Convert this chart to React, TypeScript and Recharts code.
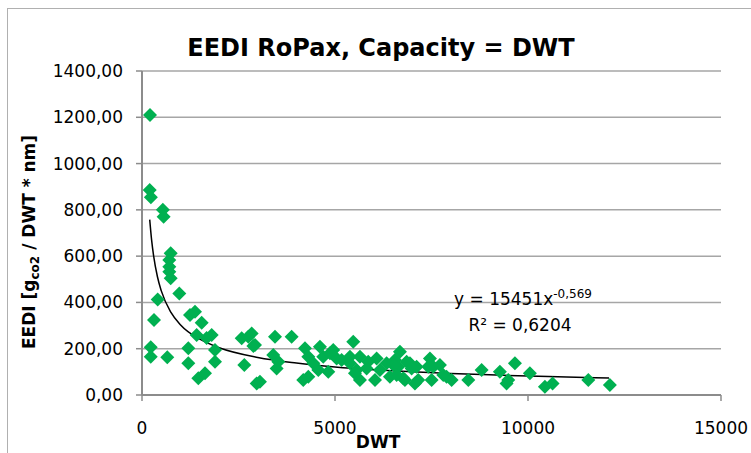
import React from "react";
import {
  ComposedChart,
  Scatter,
  Line,
  CartesianGrid,
  XAxis,
  YAxis
} from "recharts";

// ship samples: DWT vs EEDI
const dwt = [
  207, 200, 230, 540, 560, 743, 707, 707, 707, 743, 967, 406, 311, 1243, 1373,
  1546, 1416, 1805, 1675, 2582, 2755, 2885, 226, 226, 655, 1200, 1200, 1891,
  1891, 1459, 1632, 2650, 2971, 2841, 2927, 3445, 3877, 3401, 3531, 3488, 3056,
  4222, 4309, 4178, 4309, 4610, 4696, 4869, 5042, 4567, 4826, 5473, 5387, 5646,
  5560, 5646, 5862, 6079, 6165, 6424, 6553, 6640, 6682, 6510, 6941, 7114, 6769,
  7071, 7459, 7416, 7503, 7805, 8021, 8453, 8798, 9272, 9661, 9445, 10049,
  10438, 10636, 11562, 12121, 4438, 4955, 5171, 5387, 5819, 5517, 6036, 6338,
  6855, 6985, 7546, 6596, 6812, 7157, 7891, 7718, 9488
];
const eedi = [
  1210, 886, 855, 800, 770, 612, 583, 554, 533, 504, 439, 413, 324, 346, 360,
  312, 259, 259, 246, 245, 252, 212, 206, 165, 163, 202, 137, 194, 144, 72, 94,
  130, 50, 266, 216, 252, 252, 173, 144, 115, 57, 202, 165, 65, 79, 209, 165,
  180, 158, 108, 101, 230, 165, 165, 108, 65, 144, 158, 108, 79, 151, 122, 187,
  130, 137, 122, 72, 50, 158, 122, 65, 86, 65, 65, 108, 101, 137, 50, 94, 36,
  50, 65, 43, 137, 194, 151, 137, 115, 94, 65, 137, 144, 115, 122, 86, 65, 65,
  79, 130, 65
];

// power trendline as drawn
const trendX = [200, 250, 300, 400, 500, 750, 1000, 1500, 2000, 3000, 4000, 5000, 6000, 7000, 8000, 9000, 10000, 11000, 12100];
const trendY = [758, 668, 602, 511, 450, 357, 303, 241, 204, 162, 138, 121, 109, 100, 93, 87, 82, 78, 73];

const xTicks = [0, 5000, 10000, 15000];
const yTicks = [0, 200, 400, 600, 800, 1000, 1200, 1400];

const points = dwt.map((x, i) => ({ x, y: eedi[i] }));
const trend = trendX.map((x, i) => ({ x, y: trendY[i] }));

const font = "DejaVu Sans";
const axisGray = "#8c8c8c";

function Diamond(p: any) {
  const { cx, cy } = p;
  const r = 7;
  return (
    <polygon
      points={`${cx},${cy - r} ${cx + r},${cy} ${cx},${cy + r} ${cx - r},${cy}`}
      fill="#00B050"
    />
  );
}

export default function App() {
  return (
    <div style={{ position: "absolute", left: 0, top: 0, width: 751, height: 453, overflow: "hidden", background: "#fff" }}>
      <div style={{ position: "absolute", left: 7, top: 8, width: 800, height: 500, borderLeft: "1px solid #b0b0b0", borderTop: "1px solid #b0b0b0" }} />
      <ComposedChart
        width={751}
        height={453}
        margin={{ top: 71, right: 30, bottom: 18, left: 0 }}
        style={{ position: "absolute", left: 0, top: 0, fontFamily: font }}
      >
        <CartesianGrid vertical={false} stroke="#a6a6a6" strokeWidth={1.5} />
        <XAxis
          type="number"
          dataKey="x"
          domain={[0, 15000]}
          ticks={xTicks}
          height={40}
          tickSize={6}
          tickMargin={21}
          axisLine={{ stroke: axisGray, strokeWidth: 2 }}
          tickLine={{ stroke: axisGray, strokeWidth: 1.5 }}
          tick={{ fill: "#000", fontSize: 17, fontFamily: font }}
          allowDataOverflow
        />
        <YAxis
          type="number"
          dataKey="y"
          domain={[0, 1400]}
          ticks={yTicks}
          width={142}
          tickSize={6}
          tickMargin={13}
          axisLine={{ stroke: axisGray, strokeWidth: 2 }}
          tickLine={{ stroke: axisGray, strokeWidth: 1.5 }}
          tick={{ fill: "#000", fontSize: 17, fontFamily: font }}
          tickFormatter={(v: number) => v.toFixed(2).replace(".", ",")}
          allowDataOverflow
        />
        <Scatter data={points} dataKey="y" shape={Diamond} isAnimationActive={false} />
        <Line
          data={trend}
          dataKey="y"
          type="monotone"
          stroke="#000"
          strokeWidth={1.5}
          dot={false}
          activeDot={false}
          isAnimationActive={false}
        />
      </ComposedChart>
      <svg width={751} height={453} style={{ position: "absolute", left: 0, top: 0, pointerEvents: "none", fontFamily: font }}>
        <text x={381} y={56} textAnchor="middle" fontSize={24} fontWeight="bold">
          EEDI RoPax, Capacity = DWT
        </text>
        <text transform="rotate(-90)" x={-242} y={35} textAnchor="middle" fontSize={17} fontWeight="bold">
          EEDI [g<tspan fontSize={12} dy={4}>co2</tspan>
          <tspan dy={-4}> / DWT * nm]</tspan>
        </text>
        <text x={378} y={448} textAnchor="middle" fontSize={17} fontWeight="bold">
          DWT
        </text>
        <text x={523} y={305} textAnchor="middle" fontSize={17}>
          y = 15451x<tspan fontSize={12} dy={-7}>-0,569</tspan>
        </text>
        <text x={520} y={331} textAnchor="middle" fontSize={17}>
          R² = 0,6204
        </text>
      </svg>
    </div>
  );
}
